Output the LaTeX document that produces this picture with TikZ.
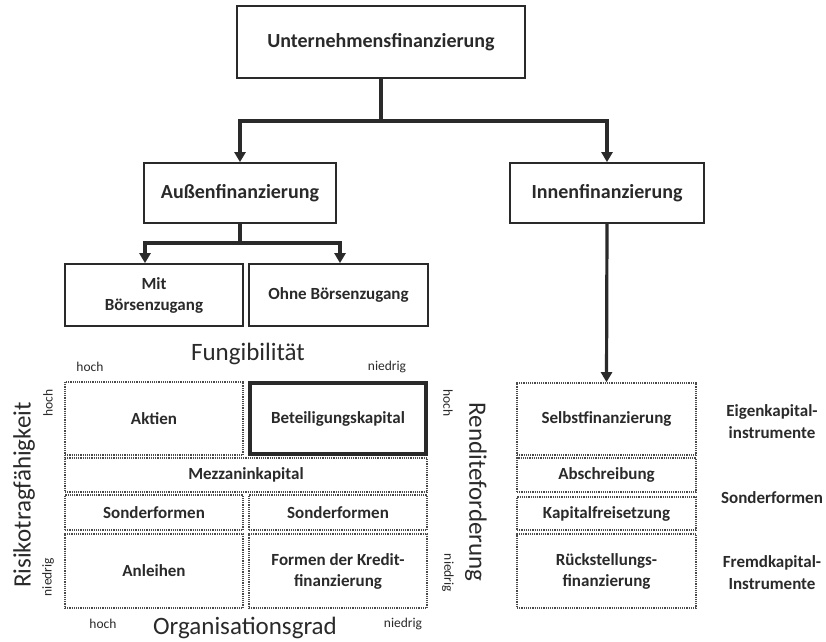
\documentclass[tikz,border=0pt]{standalone}
\usepackage{fontspec}
\setmainfont{Carlito}
\usetikzlibrary{arrows.meta}
\definecolor{ink}{HTML}{2A2A2A}
\begin{document}
\begin{tikzpicture}[x=1pt,y=-1pt,
  every node/.style={text=ink, font=\bfseries\fontsize{17}{19}\selectfont, align=center, inner sep=0pt},
  solidbox/.style={draw=ink, line width=1.8pt, rectangle},
  headbox/.style={solidbox, font=\bfseries\fontsize{20}{22}\selectfont},
  heavybox/.style={draw=ink, line width=3.6pt, rectangle},
  dotbox/.style={draw=ink!85, line width=1.7pt, dash pattern=on 1.2pt off 1.0pt, rectangle},
  conn/.style={draw=ink, line width=3.2pt},
  arr/.style={conn, -{Triangle[width=11pt,length=10pt]}},
  axistitle/.style={font=\fontsize{25}{27}\selectfont},
  scalelbl/.style={font=\fontsize{13.5}{15}\selectfont},
  sidelbl/.style={font=\bfseries\fontsize{17}{20}\selectfont}]
\useasboundingbox[fill=white] (0,0) rectangle (826,641);

% hierarchy
\node[headbox, minimum width=288, minimum height=72] (top) at (381,42) {Unternehmensfinanzierung};
\node[headbox, minimum width=192, minimum height=60] (aussen) at (240,193) {Außenfinanzierung};
\node[headbox, minimum width=194, minimum height=60] (innen) at (607,193) {Innenfinanzierung};
\node[solidbox, minimum width=178, minimum height=62] (mit) at (154,295) {Mit\\[2pt]Börsenzugang};
\node[solidbox, minimum width=179, minimum height=62] (ohne) at (338.5,295) {Ohne Börsenzugang};

\coordinate (j1) at (381,121);
\coordinate (j2) at (240,243);
\draw[conn] (top.south) -- (j1);
\draw[arr] (j1) -| (aussen.north);
\draw[arr] (j1) -| (innen.north);
\draw[conn] (aussen.south) -- (j2);
\draw[arr] (j2) -| ([xshift=-9pt]mit.north);
\draw[arr] (j2) -| ([xshift=1.5pt]ohne.north);

% external financing matrix
\node[dotbox, minimum width=178, minimum height=73] (aktien) at (154,418.5) {Aktien};
\node[heavybox, minimum width=176, minimum height=71] (beteil) at (338,418.5) {Beteiligungskapital};
\node[dotbox, minimum width=362, minimum height=34] (mezz) at (246,475) {Mezzaninkapital};
\node[dotbox, minimum width=178, minimum height=35] (sond1) at (154,512.5) {Sonderformen};
\node[dotbox, minimum width=178, minimum height=35] (sond2) at (338,512.5) {Sonderformen};
\node[dotbox, minimum width=178, minimum height=74] (anl) at (154,571) {Anleihen};
\node[dotbox, minimum width=178, minimum height=74] (kredit) at (338,571) {Formen der Kredit-\\[2pt]finanzierung};

% axes of the matrix
\node[axistitle] (fung) at (248,354) {Fungibilität};
\node[scalelbl] (fh) at (90,367) {hoch};
\node[scalelbl] (fn) at (387,367) {niedrig};
\node[axistitle] (org) at (245,628) {Organisationsgrad};
\node[scalelbl] (oh) at (103,624) {hoch};
\node[scalelbl] (on) at (403,624) {niedrig};
\node[axistitle, rotate=90] (risk) at (24,495) {Risikotragfähigkeit};
\node[scalelbl, rotate=90] (rh) at (48,403) {hoch};
\node[scalelbl, rotate=90] (rn) at (48,577) {niedrig};
\node[axistitle, rotate=-90] (rend) at (476,492) {Renditeforderung};
\node[scalelbl, rotate=-90] (dh) at (448,403) {hoch};
\node[scalelbl, rotate=-90] (dn) at (448,573) {niedrig};

% internal financing column
\node[dotbox, minimum width=179, minimum height=72] (selbst) at (606.5,419) {Selbstfinanzierung};
\node[dotbox, minimum width=179, minimum height=34] (abs) at (606.5,475) {Abschreibung};
\node[dotbox, minimum width=179, minimum height=33] (kfrei) at (606.5,513.5) {Kapitalfreisetzung};
\node[dotbox, minimum width=179, minimum height=74] (rueck) at (606.5,571) {Rückstellungs-\\[2pt]finanzierung};
\draw[arr] (innen.south) -- (selbst.north);

\node[sidelbl] (ek) at (772,422) {Eigenkapital-\\[2pt]instrumente};
\node[sidelbl] (sf) at (772,498) {Sonderformen};
\node[sidelbl] (fk) at (772,573) {Fremdkapital-\\[2pt]Instrumente};
\end{tikzpicture}
\end{document}
